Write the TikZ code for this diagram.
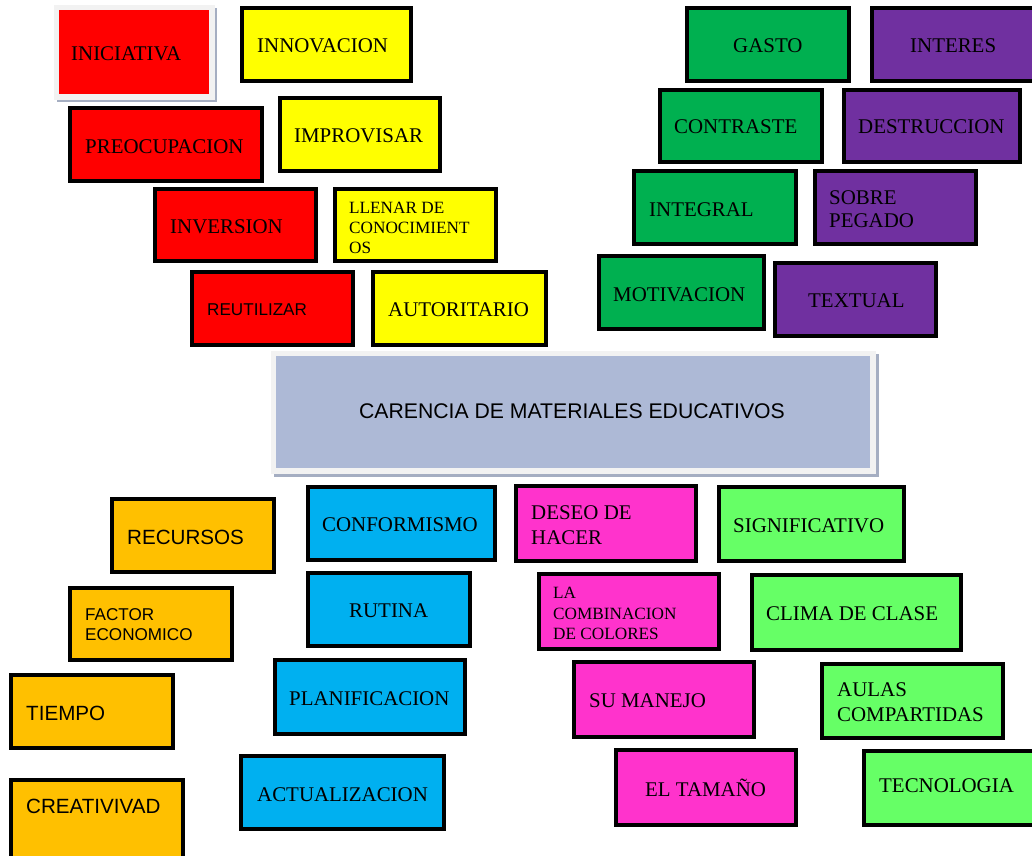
\documentclass[tikz,border=0pt]{standalone}
\usepackage{fontspec}
\setmainfont{Liberation Serif}
\newfontfamily\arialf{Liberation Sans}
\definecolor{cred}{RGB}{255,0,0}
\definecolor{cyel}{RGB}{255,255,0}
\definecolor{cgrn}{RGB}{0,176,80}
\definecolor{cpur}{RGB}{112,48,160}
\definecolor{corg}{RGB}{255,192,0}
\definecolor{cblu}{RGB}{0,176,240}
\definecolor{cmag}{RGB}{255,51,204}
\definecolor{clgr}{RGB}{102,255,102}
\definecolor{ccen}{RGB}{173,185,214}
\definecolor{cframe}{RGB}{242,242,242}
\definecolor{cshadow}{RGB}{165,174,194}
\newcommand\cbox[5]{\draw[boxline,fill=#1] (#2+1.8,#3+1.8) rectangle (#4-1.8,#5-1.8);}
\begin{document}
\begin{tikzpicture}[x=1pt,y=-1pt,
  boxline/.style={draw=black,line width=3.6pt},
  lbl/.style={inner sep=0pt,anchor=west,font=\fontsize{20.9}{24}\selectfont},
  slbl/.style={inner sep=0pt,anchor=west,align=left,font=\fontsize{17.2}{20}\selectfont},
  sanslbl/.style={inner sep=0pt,anchor=west,font=\arialf\fontsize{20.6}{24}\selectfont},
  ssanslbl/.style={inner sep=0pt,anchor=west,align=left,font=\arialf\fontsize{17.1}{20}\selectfont}]
\useasboundingbox (0,0) rectangle (1032,855);
% INICIATIVA (framed)
\fill[cshadow] (57,8) rectangle (217,102);
\fill[cframe] (54,5) rectangle (215,100);
\fill[cred] (59,10) rectangle (209,94);
\node[lbl] (iniciativa) at (71,53.5) {INICIATIVA};
% red
\cbox{cred}{68}{106}{264}{183}
\node[lbl] (preocupacion) at (85,146.5) {PREOCUPACION};
\cbox{cred}{153}{187}{318}{263}
\node[lbl] (inversion) at (170,226.5) {INVERSION};
\cbox{cred}{190}{270}{355}{347}
\node[ssanslbl] (reutilizar) at (207,309.5) {REUTILIZAR};
% yellow
\cbox{cyel}{240}{6}{413}{83}
\node[lbl] (innovacion) at (257,45.5) {INNOVACION};
\cbox{cyel}{278}{96}{442}{173}
\node[lbl] (improvisar) at (294,135.5) {IMPROVISAR};
\cbox{cyel}{333}{187}{498}{263}
\node[slbl] (llenar) at (349,227.5) {LLENAR DE\\CONOCIMIENT\\OS};
\cbox{cyel}{371}{270}{548}{347}
\node[lbl] (autoritario) at (388,309.5) {AUTORITARIO};
% green
\cbox{cgrn}{685}{6}{851}{83}
\node[lbl] (gasto) at (733,45.5) {GASTO};
\cbox{cgrn}{658}{88}{824}{164}
\node[lbl] (contraste) at (674,126.5) {CONTRASTE};
\cbox{cgrn}{632}{169}{798}{246}
\node[lbl] (integral) at (649,209.5) {INTEGRAL};
\cbox{cgrn}{597}{254}{766}{331}
\node[lbl] (motivacion) at (613,294.5) {MOTIVACION};
% purple
\cbox{cpur}{870}{6}{1037}{83}
\node[lbl] (interes) at (910,45.5) {INTERES};
\cbox{cpur}{842}{88}{1022}{164}
\node[lbl] (destruccion) at (858,126.5) {DESTRUCCION};
\cbox{cpur}{813}{169}{978}{246}
\node[lbl,align=left,font=\fontsize{20.9}{23}\selectfont] (sobre) at (829,209) {SOBRE\\PEGADO};
\cbox{cpur}{773}{261}{938}{338}
\node[lbl] (textual) at (808,300.5) {TEXTUAL};
% center
\fill[cshadow] (274,354) rectangle (879,477);
\fill[cframe] (271,351) rectangle (876,474);
\fill[ccen] (276,356) rectangle (870,468);
\node[inner sep=0pt,font=\arialf\fontsize{21.2}{24}\selectfont] (carencia) at (572,411.5) {CARENCIA DE MATERIALES EDUCATIVOS};
% orange
\cbox{corg}{110}{497}{276}{574}
\node[sanslbl] (recursos) at (127,537.5) {RECURSOS};
\cbox{corg}{68}{586}{234}{662}
\node[ssanslbl] (factor) at (85,624.5) {FACTOR\\ECONOMICO};
\cbox{corg}{9}{673}{175}{750}
\node[sanslbl] (tiempo) at (26,713.5) {TIEMPO};
\cbox{corg}{9}{778}{185}{862}
\node[sanslbl] (creativivad) at (26,806.5) {CREATIVIVAD};
% blue
\cbox{cblu}{306}{485}{497}{562}
\node[lbl] (conformismo) at (322,524.5) {CONFORMISMO};
\cbox{cblu}{306}{571}{472}{648}
\node[lbl] (rutina) at (349,610.5) {RUTINA};
\cbox{cblu}{273}{658}{467}{736}
\node[lbl] (planificacion) at (289,698.5) {PLANIFICACION};
\cbox{cblu}{239}{754}{446}{831}
\node[lbl] (actualizacion) at (257,794.5) {ACTUALIZACION};
% magenta
\cbox{cmag}{514}{484}{698}{563}
\node[lbl,align=left,font=\fontsize{20.9}{25}\selectfont] (deseo) at (531,525) {DESEO DE\\HACER};
\cbox{cmag}{537}{572}{721}{651}
\node[slbl,font=\fontsize{17.2}{20.5}\selectfont] (combinacion) at (553,613.5) {LA\\COMBINACION\\DE COLORES};
\cbox{cmag}{572}{660}{756}{739}
\node[lbl] (sumanejo) at (589,701) {SU MANEJO};
\cbox{cmag}{614}{748}{798}{827}
\node[lbl,anchor=base west] (tamano) at (645,796.5) {EL TAMAÑO};
% light green
\cbox{clgr}{717}{485}{906}{563}
\node[lbl] (significativo) at (733,525.5) {SIGNIFICATIVO};
\cbox{clgr}{750}{573}{963}{652}
\node[lbl] (clima) at (766,613.5) {CLIMA DE CLASE};
\cbox{clgr}{820}{662}{1005}{740}
\node[lbl,align=left,font=\fontsize{20.9}{25}\selectfont] (aulas) at (837,702) {AULAS\\COMPARTIDAS};
\cbox{clgr}{862}{749}{1037}{827}
\node[lbl] (tecnologia) at (879,785.5) {TECNOLOGIA};
\end{tikzpicture}
\end{document}
